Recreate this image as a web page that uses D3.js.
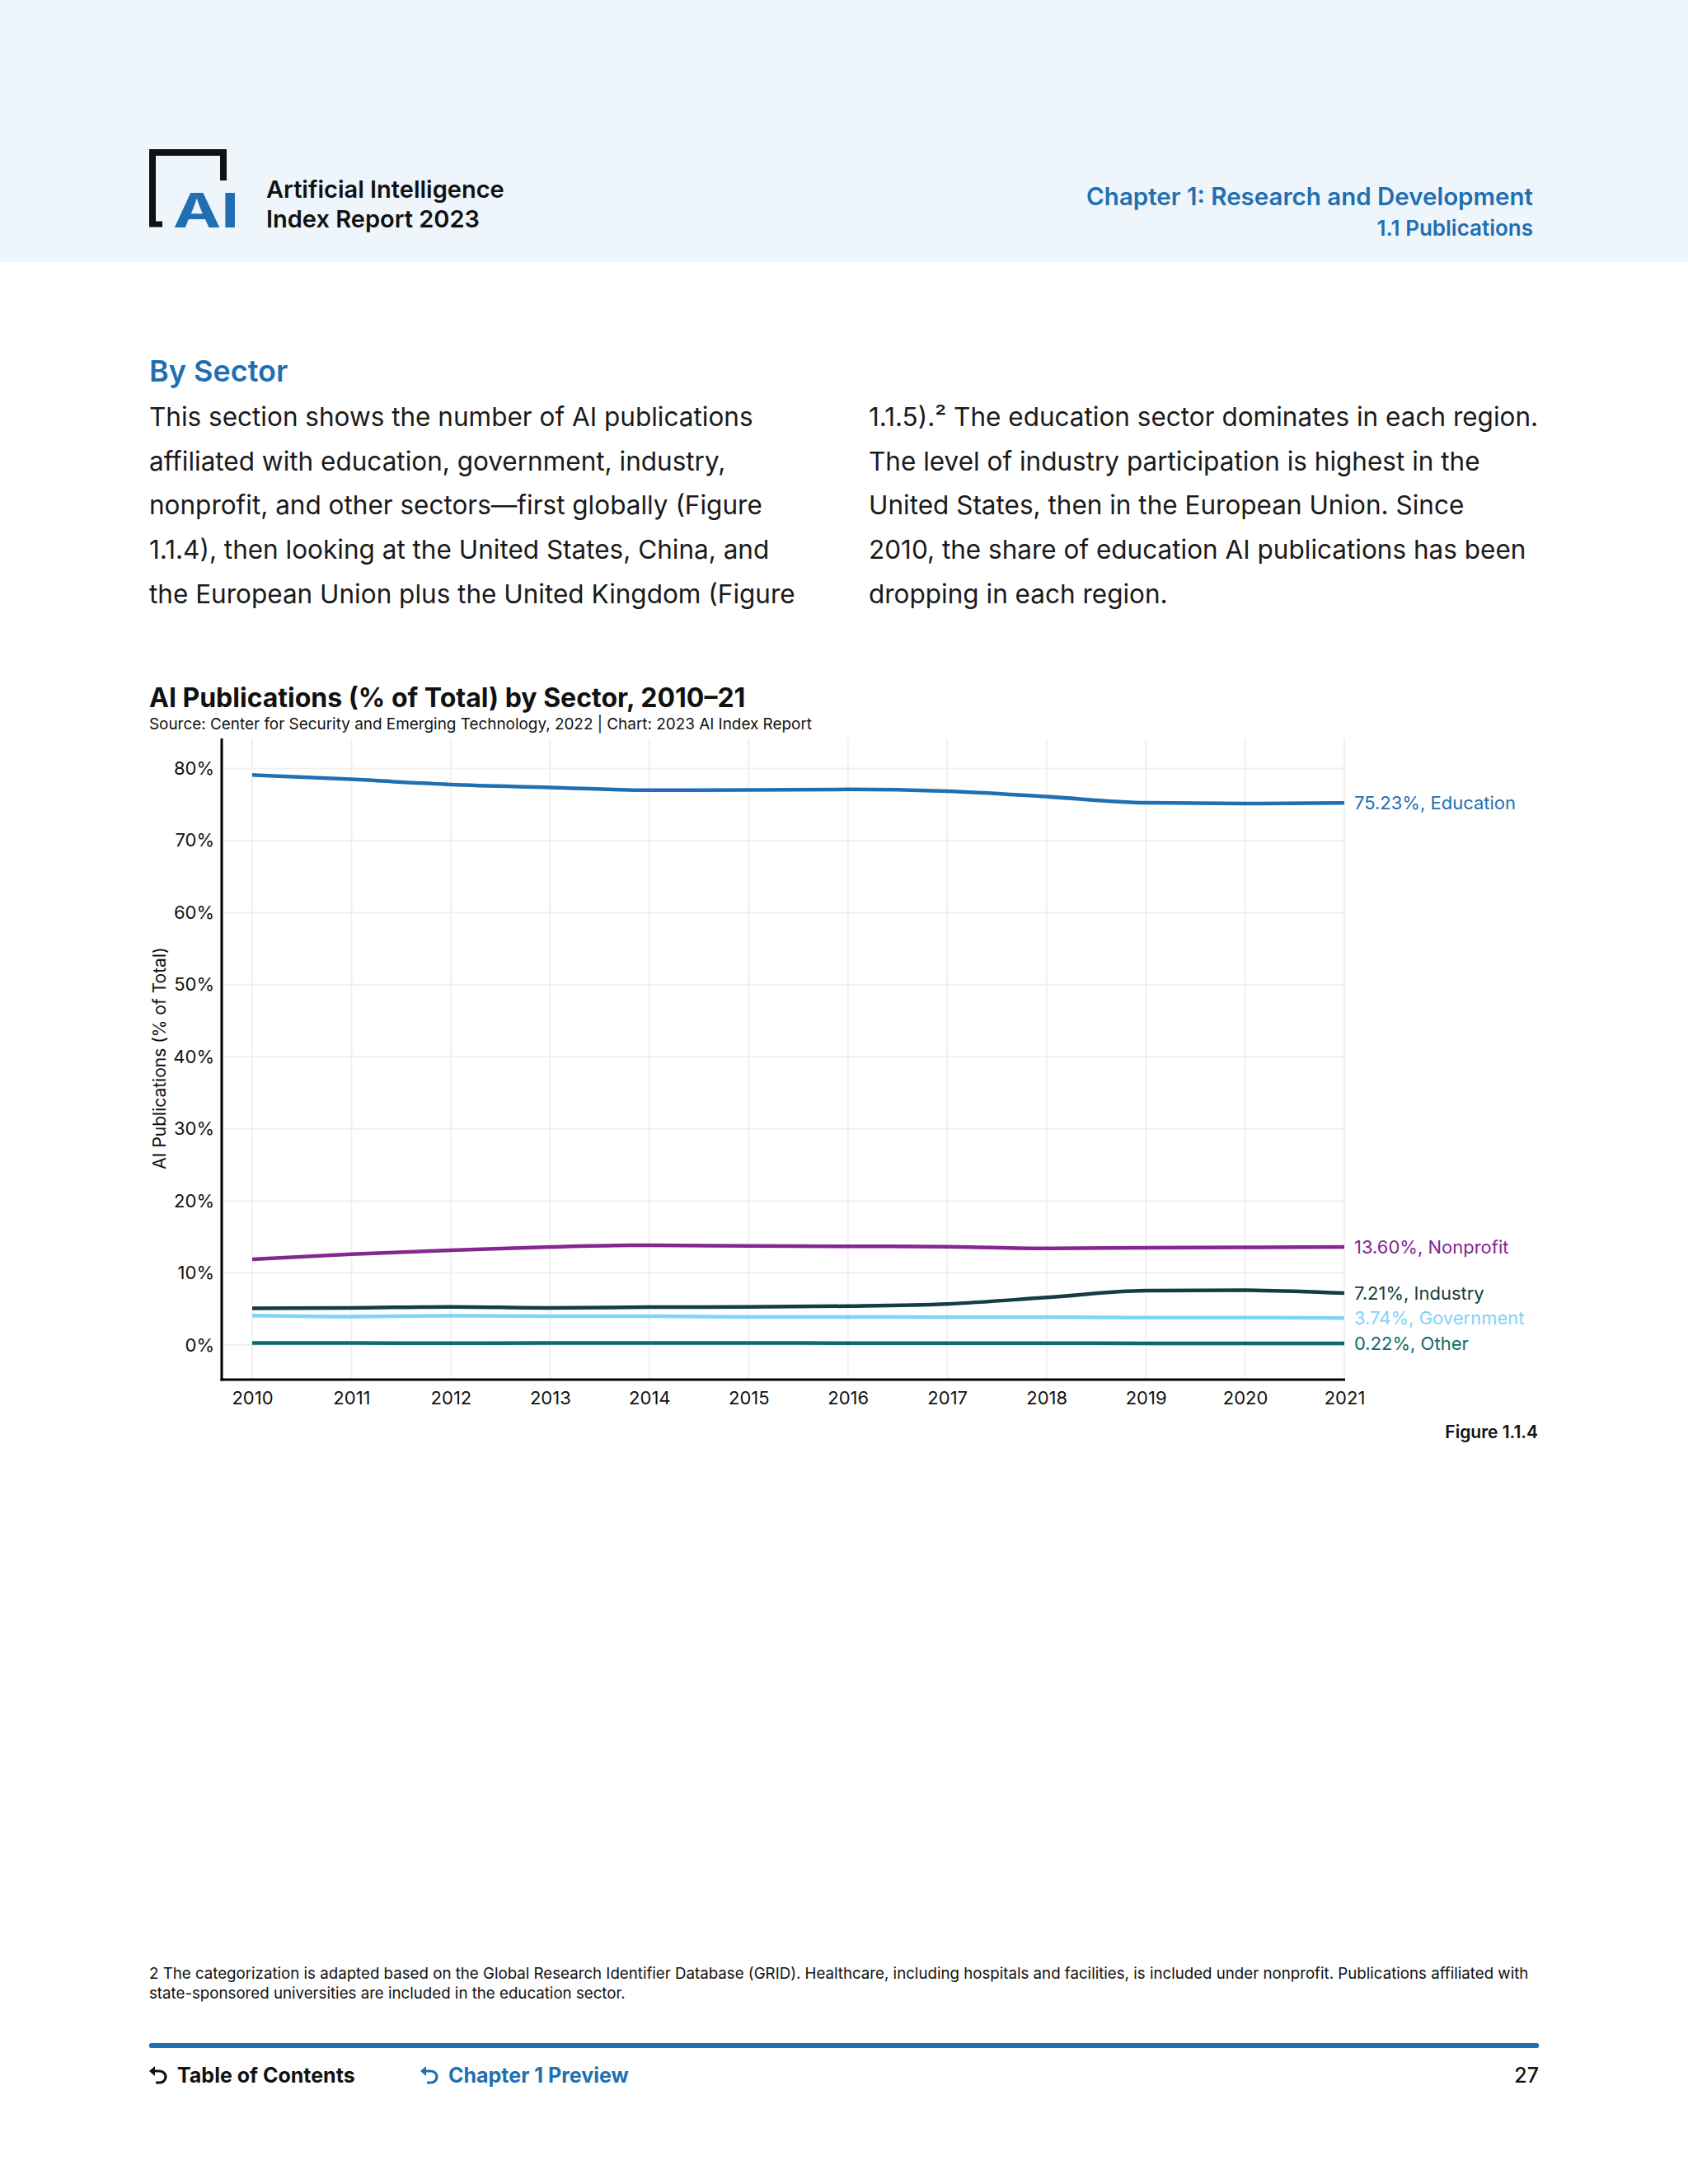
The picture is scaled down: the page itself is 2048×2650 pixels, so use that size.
<!DOCTYPE html>
<html>
<head>
<meta charset="utf-8">
<script src="https://cdn.jsdelivr.net/npm/d3@7"></script>
<style>
  body { margin: 0; background: #fff; }
  svg { display: block; }
  text { font-family: Inter, "Open Sans", sans-serif; }
</style>
</head>
<body>
<div id="page"></div>
<script>
// data
var years = [2010, 2011, 2012, 2013, 2014, 2015, 2016, 2017, 2018, 2019, 2020, 2021];
var education  = [79.1, 78.5, 77.77, 77.38, 77.0, 77.02, 77.1, 76.85, 76.1, 75.25, 75.13, 75.23];
var nonprofit  = [11.9, 12.6, 13.15, 13.6, 13.85, 13.75, 13.7, 13.65, 13.4, 13.5, 13.55, 13.60];
var industry   = [5.1, 5.15, 5.3, 5.15, 5.25, 5.3, 5.4, 5.7, 6.6, 7.55, 7.6, 7.21];
var government = [4.1, 3.95, 4.05, 4.0, 4.0, 3.9, 3.9, 3.85, 3.85, 3.8, 3.8, 3.74];
var other      = [0.3, 0.28, 0.25, 0.28, 0.3, 0.28, 0.27, 0.26, 0.25, 0.24, 0.23, 0.22];
var sectorNames = ["Education", "Nonprofit", "Industry", "Government", "Other"];
var endLabels = ["75.23%", "13.60%", "7.21%", "3.74%", "0.22%"];
var yTicks = [0, 10, 20, 30, 40, 50, 60, 70, 80];

var colors = ["#1f6fb2", "#84278f", "#163c42", "#7fd3f7", "#0d6a6a"];
var seriesValues = [education, nonprofit, industry, government, other];

var W = 2048, H = 2650;
var svg = d3.select("#page").append("svg")
    .attr("width", W)
    .attr("height", H);

// header band
svg.append("rect").attr("x", 0).attr("y", 0).attr("width", W).attr("height", 318).attr("fill", "#eef6fc");

// logo
var logo = svg.append("g").attr("transform", "translate(181,181)");
logo.append("path")
    .attr("d", "M4,92 L4,4 L90,4 L90,38")
    .attr("fill", "none").attr("stroke", "#111").attr("stroke-width", 8).attr("stroke-linejoin", "miter");
logo.append("path")
    .attr("d", "M0,91 L16,91")
    .attr("stroke", "#111").attr("stroke-width", 7);
logo.append("text")
    .attr("x", 29).attr("y", 95)
    .attr("font-family", "DejaVu Sans Mono")
    .attr("font-weight", "bold")
    .attr("font-size", 58)
    .attr("fill", "#1f6fb2")
    .attr("textLength", 80)
    .attr("lengthAdjust", "spacingAndGlyphs")
    .text("AI");

svg.append("text").attr("x", 323).attr("y", 240).attr("font-size", 29).attr("font-weight", 600).attr("fill", "#111")
    .text("Artificial Intelligence");
svg.append("text").attr("x", 323).attr("y", 276).attr("font-size", 29).attr("font-weight", 600).attr("fill", "#111")
    .text("Index Report 2023");
svg.append("text").attr("x", 1860).attr("y", 249).attr("text-anchor", "end").attr("font-size", 29.5).attr("font-weight", 600).attr("fill", "#1f6fb2")
    .text("Chapter 1: Research and Development");
svg.append("text").attr("x", 1860).attr("y", 286).attr("text-anchor", "end").attr("font-size", 26).attr("font-weight", 600).attr("fill", "#1f6fb2")
    .text("1.1 Publications");

// section text
svg.append("text").attr("x", 181).attr("y", 463).attr("font-size", 36).attr("font-weight", 600).attr("fill", "#1f6fb2")
    .text("By Sector");

var leftLines = [
  "This section shows the number of AI publications",
  "affiliated with education, government, industry,",
  "nonprofit, and other sectors\u2014first globally (Figure",
  "1.1.4), then looking at the United States, China, and",
  "the European Union plus the United Kingdom (Figure"
];
var rightLines = [
  "1.1.5).\u00b2 The education sector dominates in each region.",
  "The level of industry participation is highest in the",
  "United States, then in the European Union. Since",
  "2010, the share of education AI publications has been",
  "dropping in each region."
];
leftLines.forEach(function(l, i) {
  svg.append("text").attr("x", 181).attr("y", 517 + i * 53.7).attr("font-size", 31.5).attr("fill", "#1a1a1a").text(l);
});
rightLines.forEach(function(l, i) {
  svg.append("text").attr("x", 1054).attr("y", 517 + i * 53.7).attr("font-size", 31.5).attr("fill", "#1a1a1a").text(l);
});

// chart title
svg.append("text").attr("x", 181).attr("y", 858).attr("font-size", 32).attr("font-weight", 700).attr("fill", "#111")
    .text("AI Publications (% of Total) by Sector, 2010\u201321");
svg.append("text").attr("x", 181).attr("y", 885).attr("font-size", 18.9).attr("fill", "#111")
    .text("Source: Center for Security and Emerging Technology, 2022 | Chart: 2023 AI Index Report");

// plot area
var plotL = 269, plotR = 1632, plotT = 896, plotB = 1674;
var x = d3.scaleLinear().domain([2010, 2021]).range([306, 1631]);
var y = d3.scaleLinear().domain([0, 80]).range([1632, 932.5]);

var grid = svg.append("g");
grid.selectAll("line.v").data(years).enter().append("line")
    .attr("x1", function(d) { return x(d); }).attr("x2", function(d) { return x(d); })
    .attr("y1", plotT).attr("y2", plotB)
    .attr("stroke", "#f0f0f0").attr("stroke-width", 2);
grid.selectAll("line.h").data(yTicks).enter().append("line")
    .attr("x1", plotL).attr("x2", plotR)
    .attr("y1", function(d) { return y(d); }).attr("y2", function(d) { return y(d); })
    .attr("stroke", "#f0f0f0").attr("stroke-width", 2);

// axes
var yAxis = svg.append("g")
    .attr("transform", "translate(" + plotL + ",0)")
    .call(d3.axisLeft(y).tickValues(yTicks).tickSize(0).tickPadding(9).tickFormat(function(d) { return d + "%"; }));
yAxis.select(".domain").remove();
yAxis.selectAll("text").attr("font-size", 22).attr("fill", "#111").style("font-family", "Inter, sans-serif");

var xAxis = svg.append("g")
    .attr("transform", "translate(0," + plotB + ")")
    .call(d3.axisBottom(x).tickValues(years).tickSize(0).tickPadding(14).tickFormat(d3.format("d")));
xAxis.select(".domain").remove();
xAxis.selectAll("text").attr("font-size", 22).attr("fill", "#111").style("font-family", "Inter, sans-serif");

svg.append("line").attr("x1", plotL).attr("x2", plotL).attr("y1", plotT).attr("y2", plotB + 1.5)
    .attr("stroke", "#000").attr("stroke-width", 3);
svg.append("line").attr("x1", plotL - 1.5).attr("x2", plotR).attr("y1", plotB).attr("y2", plotB)
    .attr("stroke", "#000").attr("stroke-width", 3);

svg.append("text")
    .attr("transform", "translate(201,1284) rotate(-90)")
    .attr("text-anchor", "middle")
    .attr("font-size", 21)
    .attr("fill", "#111")
    .text("AI Publications (% of Total)");

// lines
var line = d3.line()
    .x(function(d, i) { return x(years[i]); })
    .y(function(d) { return y(d); })
    .curve(d3.curveMonotoneX);

seriesValues.forEach(function(vals, k) {
  svg.append("path")
      .datum(vals)
      .attr("d", line)
      .attr("fill", "none")
      .attr("stroke", colors[k])
      .attr("stroke-width", 4.5)
      .attr("stroke-linecap", "butt");
  svg.append("text")
      .attr("x", 1643)
      .attr("y", y(vals[vals.length - 1]))
      .attr("dy", "0.35em")
      .attr("font-size", 22)
      .attr("fill", colors[k])
      .text(endLabels[k] + ", " + sectorNames[k]);
});

svg.append("text").attr("x", 1866).attr("y", 1745).attr("text-anchor", "end").attr("font-size", 21).attr("font-weight", 600).attr("fill", "#111")
    .text("Figure 1.1.4");

// footnote
svg.append("text").attr("x", 181).attr("y", 2401).attr("font-size", 18.7).attr("fill", "#111")
    .text("2 The categorization is adapted based on the Global Research Identifier Database (GRID). Healthcare, including hospitals and facilities, is included under nonprofit. Publications affiliated with");
svg.append("text").attr("x", 181).attr("y", 2425).attr("font-size", 18.7).attr("fill", "#111")
    .text("state-sponsored universities are included in the education sector.");

// footer
svg.append("rect").attr("x", 181).attr("y", 2479).attr("width", 1686).attr("height", 6).attr("rx", 2).attr("fill", "#1f6fb2");

function backArrow(g, color) {
  g.append("path")
      .attr("d", "M4,6 L13,6 A7,7 0 0 1 13,20 L8,20")
      .attr("fill", "none").attr("stroke", color).attr("stroke-width", 3.2);
  g.append("path")
      .attr("d", "M0,6 L7,0 L7,12 Z")
      .attr("fill", color);
}
backArrow(svg.append("g").attr("transform", "translate(181,2507)"), "#111");
backArrow(svg.append("g").attr("transform", "translate(510,2507)"), "#1f6fb2");

svg.append("text").attr("x", 215).attr("y", 2527).attr("font-size", 25).attr("font-weight", 700).attr("fill", "#111")
    .text("Table of Contents");
svg.append("text").attr("x", 544).attr("y", 2527).attr("font-size", 25).attr("font-weight", 700).attr("fill", "#1f6fb2")
    .text("Chapter 1 Preview");
svg.append("text").attr("x", 1867).attr("y", 2527).attr("text-anchor", "end").attr("font-size", 25).attr("font-weight", 500).attr("fill", "#111")
    .text("27");
</script>
</body>
</html>
